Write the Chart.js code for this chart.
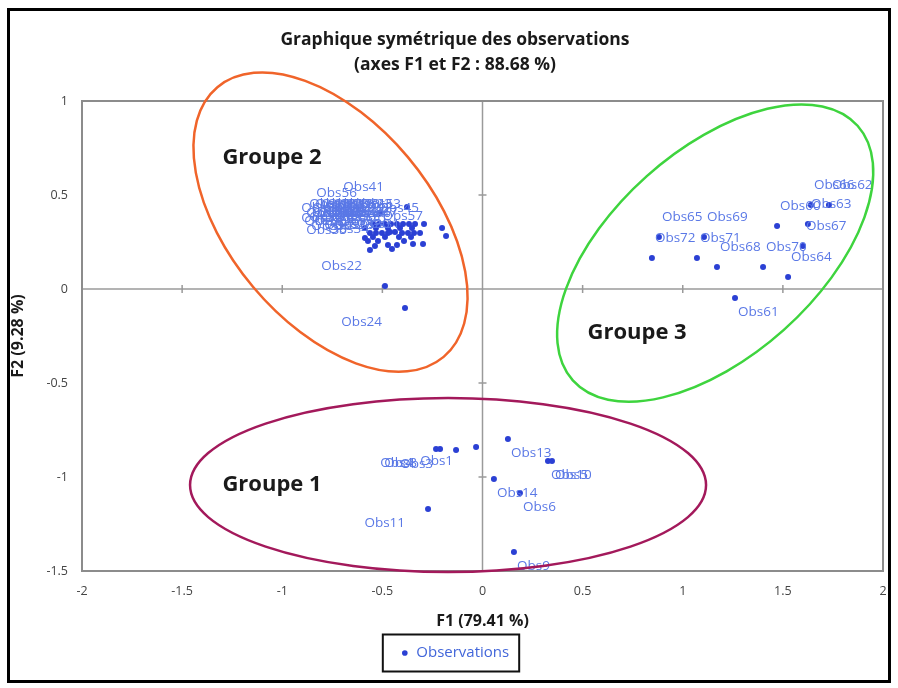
<!DOCTYPE html>
<html>
<head>
<meta charset="utf-8">
<script src="https://cdn.jsdelivr.net/npm/chart.js@4/dist/chart.umd.min.js"></script>
<style>
  html, body { margin: 0; padding: 0; background: #ffffff; }
  #wrap { position: relative; width: 898px; height: 688px; }
</style>
</head>
<body>
<div id="wrap"><canvas id="c" width="898" height="688"></canvas></div>
<script>
// Observation names and their coordinates on the first two factors
const obsNames = [
  'Obs1','Obs3','Obs4','Obs8','Obs13','Obs10','Obs5','Obs14','Obs6','Obs9','Obs11',
  'Obs41','Obs53','Obs45','Obs57','Obs30','Obs31','Obs32','Obs33','Obs34','Obs35','Obs36','Obs37','Obs38','Obs22','Obs24',
  'Obs15','Obs16','Obs17','Obs18','Obs19','Obs20','Obs21','Obs23',
  'Obs25','Obs26','Obs27','Obs28',
  'Obs29','Obs39','Obs40','Obs42','Obs43','Obs44','Obs46','Obs47',
  'Obs48','Obs49','Obs50','Obs51',
  'Obs52','Obs54','Obs55','Obs56','Obs58','Obs59',
  'Obs60','Obs61','Obs62','Obs63','Obs64','Obs65','Obs66','Obs67','Obs68','Obs69','Obs70','Obs71','Obs72'
];
const f1Scores = [
  -0.032,-0.132,-0.232,-0.212,0.127,0.327,0.347,0.057,0.187,0.157,-0.272,
  -0.377,-0.292,-0.202,-0.182,-0.347,-0.297,-0.472,-0.427,-0.452,-0.562,-0.537,-0.437,-0.462,-0.487,-0.387,
  -0.547,-0.517,-0.487,-0.457,-0.427,-0.397,-0.367,-0.337,
  -0.532,-0.472,-0.412,-0.352,
  -0.562,-0.532,-0.502,-0.472,-0.402,-0.372,-0.342,-0.312,
  -0.547,-0.487,-0.417,-0.357,
  -0.572,-0.522,-0.392,-0.512,-0.587,-0.587,
  1.471,1.261,1.730,1.625,1.526,0.881,1.640,1.600,1.171,1.106,1.401,1.071,0.846
];
const f2Scores = [
  -0.840,-0.856,-0.851,-0.851,-0.798,-0.915,-0.915,-1.011,-1.085,-1.399,-1.170,
  0.436,0.346,0.324,0.282,0.239,0.239,0.234,0.234,0.213,0.207,0.229,0.303,0.303,0.016,-0.101,
  0.346,0.346,0.346,0.346,0.346,0.346,0.346,0.346,
  0.324,0.324,0.324,0.324,
  0.298,0.298,0.298,0.298,0.298,0.298,0.298,0.298,
  0.277,0.277,0.277,0.277,
  0.255,0.255,0.255,0.404,0.324,0.271,
  0.335,-0.048,0.447,0.346,0.064,0.277,0.447,0.229,0.117,0.277,0.117,0.165,0.165
];

const chartTitle = ['Graphique symétrique des observations', '(axes F1 et F2 : 88.68 %)'];
const xTitle = 'F1 (79.41 %)';
const yTitle = 'F2 (9.28 %)';
const seriesName = 'Observations';

// Group outlines: centre in axis units, semi-axes in pixels, rotation in degrees
const groupOutlines = [
  { name: 'Groupe 1', cx: -0.172, cy: -1.043, rx: 258, ry: 87, rot: 0, color: '#a3195b', tx: -1.051, ty: -1.043 },
  { name: 'Groupe 2', cx: -0.759, cy: 0.356, rx: 176, ry: 101, rot: 50, color: '#f0642a', tx: -1.051, ty: 0.697 },
  { name: 'Groupe 3', cx: 1.162, cy: 0.191, rx: 191, ry: 103, rot: -41.8, color: '#3ed43e', tx: 0.772, ty: -0.234 }
];

const FONT = '"Open Sans", "DejaVu Sans", sans-serif';

// Plot frame, zero lines with crossing tick marks
const frameAndAxes = {
  id: 'frameAndAxes',
  beforeDatasetsDraw(chart) {
    const { ctx, chartArea: a, scales: { x, y } } = chart;
    ctx.save();
    ctx.strokeStyle = '#9a9a9a';
    ctx.lineWidth = 1.5;
    const x0 = x.getPixelForValue(0), y0 = y.getPixelForValue(0);
    ctx.beginPath();
    ctx.moveTo(x0, a.top); ctx.lineTo(x0, a.bottom);
    ctx.moveTo(a.left, y0); ctx.lineTo(a.right, y0);
    x.ticks.forEach(t => {
      const px = x.getPixelForValue(t.value);
      ctx.moveTo(px, y0 - 4); ctx.lineTo(px, y0 + 4);
    });
    y.ticks.forEach(t => {
      const py = y.getPixelForValue(t.value);
      ctx.moveTo(x0 - 4, py); ctx.lineTo(x0 + 4, py);
    });
    ctx.stroke();
    ctx.strokeStyle = '#8c8c8c';
    ctx.lineWidth = 2;
    ctx.strokeRect(a.left, a.top, a.right - a.left, a.bottom - a.top);
    ctx.restore();
  }
};

// Observation names, set diagonally away from the origin
const pointLabels = {
  id: 'pointLabels',
  afterDatasetsDraw(chart) {
    const { ctx } = chart;
    const meta = chart.getDatasetMeta(0);
    ctx.save();
    ctx.font = '13.5px ' + FONT;
    ctx.fillStyle = '#5a78e6';
    ctx.textBaseline = 'middle';
    meta.data.forEach((pt, i) => {
      const right = f1Scores[i] >= 0;
      const up = f2Scores[i] >= 0;
      ctx.textAlign = right ? 'left' : 'right';
      ctx.fillText(obsNames[i], pt.x + (right ? 3 : -23), pt.y + (up ? -20 : 14));
    });
    ctx.restore();
  }
};

// Group ellipses and their names, plus the legend frame and outer border
const overlays = {
  id: 'overlays',
  afterDatasetsDraw(chart) {
    const { ctx, scales: { x, y } } = chart;
    ctx.save();
    groupOutlines.forEach(g => {
      ctx.beginPath();
      ctx.ellipse(x.getPixelForValue(g.cx), y.getPixelForValue(g.cy), g.rx, g.ry, g.rot * Math.PI / 180, 0, Math.PI * 2);
      ctx.strokeStyle = g.color;
      ctx.lineWidth = 2.5;
      ctx.stroke();
    });
    ctx.font = 'bold 22px ' + FONT;
    ctx.fillStyle = '#1a1a1a';
    ctx.textAlign = 'center';
    ctx.textBaseline = 'middle';
    groupOutlines.forEach(g => {
      ctx.fillText(g.name, x.getPixelForValue(g.tx), y.getPixelForValue(g.ty));
    });
    ctx.restore();
  },
  afterDraw(chart) {
    const { ctx } = chart;
    ctx.save();
    const hb = chart.legend.legendHitBoxes[0];
    if (hb) {
      const cy = hb.top + hb.height / 2;
      ctx.strokeStyle = '#111';
      ctx.lineWidth = 2;
      ctx.strokeRect(hb.left - 18, cy - 18.5, hb.width + 28, 37);
    }
    ctx.strokeStyle = '#000';
    ctx.lineWidth = 3;
    ctx.strokeRect(8.5, 9.5, 881, 672);
    ctx.restore();
  }
};

const points = obsNames.map((n, i) => ({ x: f1Scores[i], y: f2Scores[i] }));
const tickText = v => String(Math.round(v * 10) / 10);

new Chart(document.getElementById('c'), {
  type: 'scatter',
  data: {
    datasets: [{
      label: seriesName,
      data: points,
      pointRadius: 3,
      pointHoverRadius: 3,
      backgroundColor: '#2b40d4',
      borderColor: '#2b40d4',
      borderWidth: 0,
      pointStyle: 'circle'
    }]
  },
  options: {
    responsive: false,
    devicePixelRatio: 1,
    animation: false,
    events: [],
    layout: { padding: { left: 27, right: 15, top: 10, bottom: 17.5 } },
    plugins: {
      tooltip: { enabled: false },
      title: {
        display: true,
        text: chartTitle,
        color: '#1a1a1a',
        font: { family: FONT, size: 17.5, weight: 'bold', lineHeight: 25 / 17.5 },
        padding: { top: 17.5, bottom: 23.5 }
      },
      legend: {
        position: 'bottom',
        labels: {
          usePointStyle: true,
          boxWidth: 8,
          boxHeight: 4,
          padding: 12.5,
          color: '#4266da',
          font: { family: FONT, size: 15 }
        }
      }
    },
    scales: {
      x: {
        type: 'linear',
        min: -2, max: 2,
        grid: { display: false, drawTicks: false },
        border: { display: false },
        ticks: { stepSize: 0.5, padding: 13, color: '#444', font: { family: FONT, size: 12.5 }, callback: tickText },
        title: {
          display: true, text: xTitle, color: '#1a1a1a',
          font: { family: FONT, size: 16, weight: 'bold' },
          padding: { top: 0, bottom: 2 }
        },
        afterFit(s) { s.height = 62; s.paddingLeft = 0; s.paddingRight = 0; }
      },
      y: {
        type: 'linear',
        min: -1.5, max: 1,
        grid: { display: false, drawTicks: false },
        border: { display: false },
        ticks: { stepSize: 0.5, padding: 14, color: '#444', font: { family: FONT, size: 12.5 }, callback: tickText },
        title: {
          display: true, text: yTitle, color: '#1a1a1a',
          font: { family: FONT, size: 16, weight: 'bold' },
          padding: { top: -18, bottom: 0 }
        },
        afterFit(s) { s.width = 55; s.paddingTop = 0; s.paddingBottom = 0; }
      }
    }
  },
  plugins: [frameAndAxes, pointLabels, overlays]
});
</script>
</body>
</html>
